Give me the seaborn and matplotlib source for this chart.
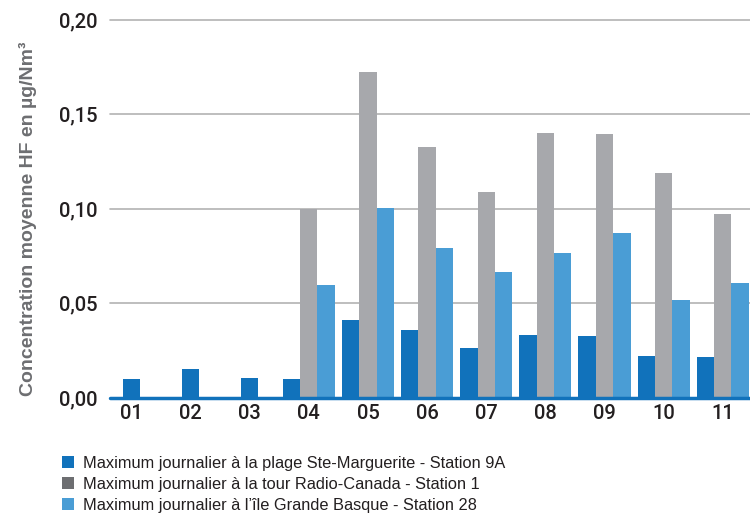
import numpy as np
import pandas as pd
import matplotlib
matplotlib.use('Agg')
import matplotlib.pyplot as plt
import seaborn as sns
from matplotlib.patches import Patch

# valeurs (µg/Nm3)
mois = ['01', '02', '03', '04', '05', '06', '07', '08', '09', '10', '11']
plage_ste_marguerite = [0.0100, 0.0153, 0.0106, 0.0100, 0.0412, 0.0359, 0.0264, 0.0333, 0.0327, 0.0223, 0.0217]
tour_radio_canada = [np.nan, np.nan, np.nan, 0.0998, 0.1720, 0.1325, 0.1090, 0.1400, 0.1394, 0.1190, 0.0970]
ile_grande_basque = [np.nan, np.nan, np.nan, 0.0597, 0.1003, 0.0790, 0.0665, 0.0766, 0.0870, 0.0517, 0.0610]
series = ['Maximum journalier à la plage Ste-Marguerite - Station 9A',
          'Maximum journalier à la tour Radio-Canada - Station 1',
          'Maximum journalier à l’île Grande Basque - Station 28']
y_ticks = [0.00, 0.05, 0.10, 0.15, 0.20]

colors = ['#1172bb', '#a7a8ac', '#4a9dd5']
legend_colors = ['#1172bb', '#6d6e71', '#4a9dd5']

df = pd.DataFrame({'Mois': mois * 3,
                   'Serie': [s for s in series for _ in mois],
                   'Valeur': plage_ste_marguerite + tour_radio_canada + ile_grande_basque})
df = df.dropna()

sns.set_style('white')
plt.rcParams['font.family'] = ['Roboto', 'DejaVu Sans']

fig = plt.figure(figsize=(7.5, 5.14), dpi=100)
ax = fig.add_axes([110 / 750, 1 - 398 / 514, 640 / 750, 378.5 / 514])

sns.barplot(data=df, x='Mois', y='Valeur', hue='Serie', order=mois, hue_order=series,
            palette=colors, width=0.88, dodge=True, ax=ax, legend=False,
            saturation=1, zorder=2, linewidth=0, edgecolor='none')

# les mois sans autres stations : barre centrée sur le mois
dark = ax.containers[0]
for i, bar in enumerate(dark.patches):
    if np.isnan(tour_radio_canada[i]) and np.isnan(ile_grande_basque[i]):
        bar.set_x(i - bar.get_width() / 2)

ax.set_xlim(-0.36, 10.46)
ax.set_ylim(0, 0.20)
ax.set_yticks(y_ticks)
ax.set_yticklabels([f'{v:.2f}'.replace('.', ',') for v in y_ticks])
for v in y_ticks[1:]:
    ax.axhline(v, color='#b3b3b3', lw=1.2, zorder=0, clip_on=False)
ax.axhline(0, color='#1172bb', lw=2.5, zorder=3, clip_on=False)

for s in ax.spines.values():
    s.set_visible(False)
ax.tick_params(axis='both', length=0, labelsize=14.5, labelcolor='#231f20')
ax.tick_params(axis='y', pad=9)
ax.tick_params(axis='x', pad=4)
for lab in ax.get_xticklabels() + ax.get_yticklabels():
    lab.set_fontweight('medium')
ax.set_xlabel('')
ax.set_ylabel('Concentration moyenne HF en µg/Nm³', fontsize=14, fontweight='bold',
              color='#6d6e71', family=['Liberation Sans', 'DejaVu Sans'])
ax.yaxis.set_label_coords(-0.114, 0.473)

handles = [Patch(facecolor=c, edgecolor='none') for c in legend_colors]
fig.legend(handles, series, loc='upper left', bbox_to_anchor=(55 / 750, 1 - 449 / 514),
           frameon=False, handlelength=0.75, handleheight=0.75, handletextpad=0.55,
           labelspacing=0.38, borderaxespad=0,
           prop={'family': ['Liberation Sans', 'DejaVu Sans'], 'size': 11.8})
for t in fig.legends[0].get_texts():
    t.set_color('#231f20')

fig.savefig('out.png', dpi=100)
